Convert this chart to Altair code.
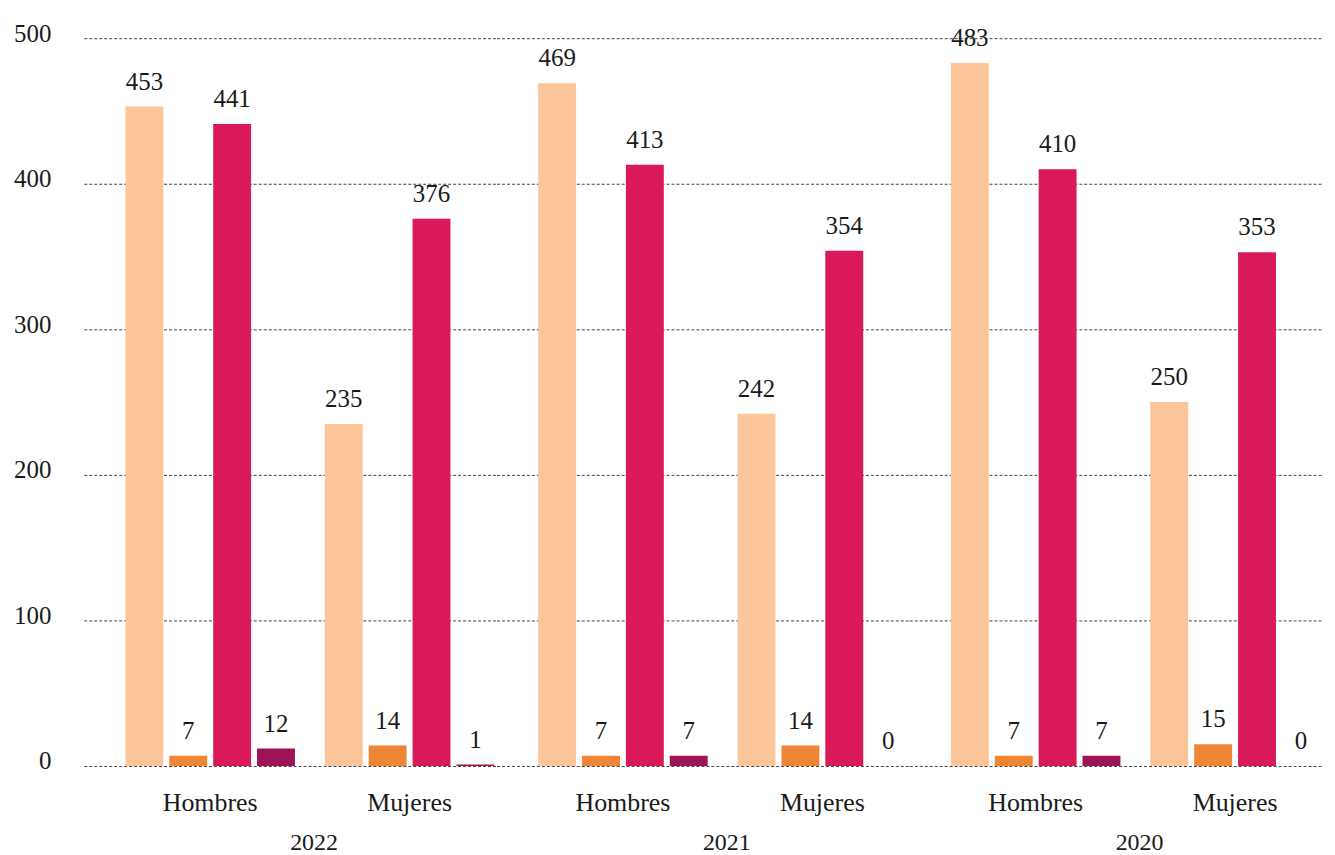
import altair as alt
import pandas as pd

years = ["2022", "2021", "2020"]
sexes = ["Hombres", "Mujeres"]
series = ["Serie 1", "Serie 2", "Serie 3", "Serie 4"]
colors = ["#FCC69A", "#EF8535", "#DA1A58", "#9C1457"]

# order: 2022 H, 2022 M, 2021 H, 2021 M, 2020 H, 2020 M
s1 = [453, 235, 469, 242, 483, 250]
s2 = [7, 14, 7, 14, 7, 15]
s3 = [441, 376, 413, 354, 410, 353]
s4 = [12, 1, 7, 0, 7, 0]

rows = []
for i, (yr, sx) in enumerate([(y, s) for y in years for s in sexes]):
    for name, vals in zip(series, [s1, s2, s3, s4]):
        rows.append({"anio": yr, "sexo": sx, "serie": name, "valor": vals[i]})
df = pd.DataFrame(rows)

FONT = "Liberation Serif"
TXT = "#1a1a1a"

x_enc = alt.X(
    "sexo:N", sort=sexes,
    scale=alt.Scale(paddingInner=0.15, paddingOuter=0.11, align=0.95),
    axis=alt.Axis(title=None, labelAngle=0, domain=False, ticks=False,
                  labelFontSize=26, labelFont=FONT, labelColor=TXT,
                  labelPadding=24, grid=False),
)
xo_enc = alt.XOffset("serie:N", sort=series,
                     scale=alt.Scale(paddingInner=0.136, paddingOuter=0))
y_enc = alt.Y(
    "valor:Q", scale=alt.Scale(domain=[0, 500], nice=False),
    axis=alt.Axis(title=None, values=[0, 100, 200, 300, 400, 500],
                  domain=False, ticks=False, grid=True,
                  gridDash=[3, 2], gridColor="#444", gridWidth=1,
                  labelFontSize=25, labelFont=FONT, labelColor=TXT,
                  labelPadding=33, labelBaseline="alphabetic", labelOffset=3),
)

base = alt.Chart().encode(x=x_enc, xOffset=xo_enc, y=y_enc)

bars = base.mark_bar().encode(
    color=alt.Color("serie:N", sort=series,
                    scale=alt.Scale(domain=series, range=colors), legend=None)
)
labels = base.mark_text(baseline="alphabetic", dy=-17, fontSize=25,
                        font=FONT, color=TXT).encode(text="valor:Q")

layer = alt.layer(bars, labels, data=df).properties(width=414, height=730)

chart = layer.facet(
    column=alt.Column("anio:N", sort=years,
                      header=alt.Header(title=None, labelOrient="bottom",
                                        labelAnchor="middle", labelAlign="left",
                                        labelFontSize=24, labelFont=FONT,
                                        labelColor=TXT, labelPadding=15))
).configure_facet(spacing=0).configure_view(stroke=None).properties(
    padding={"left": 5, "top": 12, "right": 5, "bottom": 5}
)

chart.save("out.html", embed_options={"renderer": "svg", "actions": False})
